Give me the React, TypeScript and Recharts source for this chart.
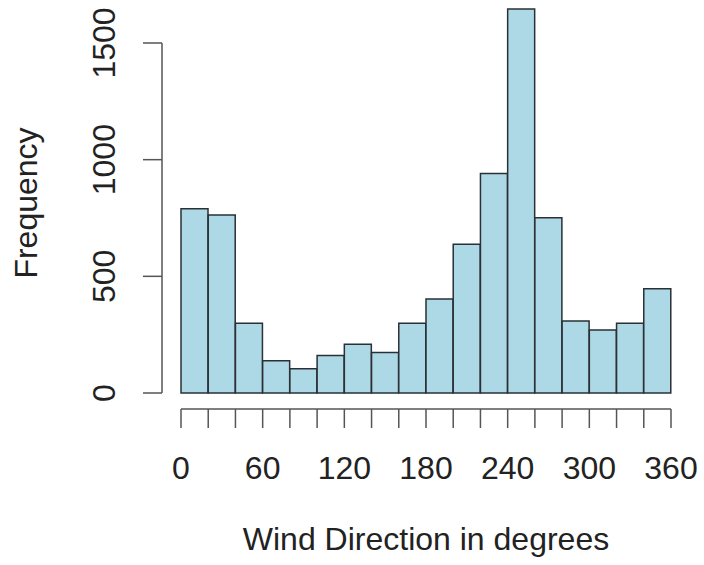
import { BarChart, Bar, XAxis, YAxis, ReferenceLine, Label } from "recharts";

// histogram bins: lower edges, 20 degrees wide
const binStarts = [0, 20, 40, 60, 80, 100, 120, 140, 160, 180, 200, 220, 240, 260, 280, 300, 320, 340];
const binWidth = 20;
const counts = [790, 763, 299, 138, 104, 161, 209, 174, 299, 403, 637, 941, 1646, 751, 309, 270, 299, 447];

const xTicks = [0, 20, 40, 60, 80, 100, 120, 140, 160, 180, 200, 220, 240, 260, 280, 300, 320, 340, 360];
const xLabels = [0, 60, 120, 180, 240, 300, 360];
const yTicks = [0, 500, 1000, 1500];

const data = binStarts.map((start, i) => ({ mid: start + binWidth / 2, count: counts[i] }));

const FONT = "'Liberation Sans', Arial, Helvetica, sans-serif";
const TEXT = "#222";
const AXIS = "#555";

function XTick({ x, payload }: any) {
  const show = xLabels.includes(payload.value);
  return (
    <g>
      <line x1={x} x2={x} y1={409} y2={428} stroke={AXIS} strokeWidth={1.5} />
      {show && (
        <text x={x} y={479} textAnchor="middle" fontSize={32} fill={TEXT} fontFamily={FONT}>
          {payload.value}
        </text>
      )}
    </g>
  );
}

function YTick({ y, payload }: any) {
  return (
    <g>
      <line x1={143} x2={162} y1={y} y2={y} stroke={AXIS} strokeWidth={1.5} />
      <text
        x={115}
        y={y}
        transform={`rotate(-90, 115, ${y})`}
        textAnchor="middle"
        fontSize={32}
        fill={TEXT}
        fontFamily={FONT}
      >
        {payload.value}
      </text>
    </g>
  );
}

export default function App() {
  return (
    <div style={{ position: "absolute", left: 0, top: 0, background: "#fff" }}>
      <BarChart
        width={704}
        height={565}
        data={data}
        margin={{ top: 1, right: 33, bottom: 142, left: 141 }}
        barCategoryGap={0}
        barGap={0}
      >
        <XAxis
          type="number"
          dataKey="mid"
          domain={[0, 360]}
          ticks={xTicks}
          interval={0}
          height={30}
          axisLine={false}
          tickLine={false}
          tick={<XTick />}
        >
          <Label
            content={() => (
              <text x={426} y={550} textAnchor="middle" fontSize={32} fill={TEXT} fontFamily={FONT}>
                Wind Direction in degrees
              </text>
            )}
          />
        </XAxis>
        <YAxis
          type="number"
          domain={[0, 1680]}
          ticks={yTicks}
          interval={0}
          width={40}
          axisLine={false}
          tickLine={false}
          tick={<YTick />}
        >
          <Label
            content={() => (
              <text
                x={37}
                y={203}
                transform="rotate(-90, 37, 203)"
                textAnchor="middle"
                fontSize={32}
                fill={TEXT}
                fontFamily={FONT}
              >
                Frequency
              </text>
            )}
          />
        </YAxis>
        <Bar dataKey="count" fill="#ADD8E6" stroke="#2a3036" strokeWidth={1.5} isAnimationActive={false} />
        <ReferenceLine
          segment={[{ x: 0, y: 0 }, { x: 0, y: 1500 }]}
          shape={(p: any) => (
            <line x1={p.x1 - 19} y1={p.y1} x2={p.x2 - 19} y2={p.y2} stroke={AXIS} strokeWidth={1.5} />
          )}
        />
        <ReferenceLine
          segment={[{ x: 0, y: 0 }, { x: 360, y: 0 }]}
          shape={(p: any) => (
            <line x1={p.x1} y1={p.y1 + 16} x2={p.x2} y2={p.y2 + 16} stroke={AXIS} strokeWidth={1.5} />
          )}
        />
      </BarChart>
    </div>
  );
}
